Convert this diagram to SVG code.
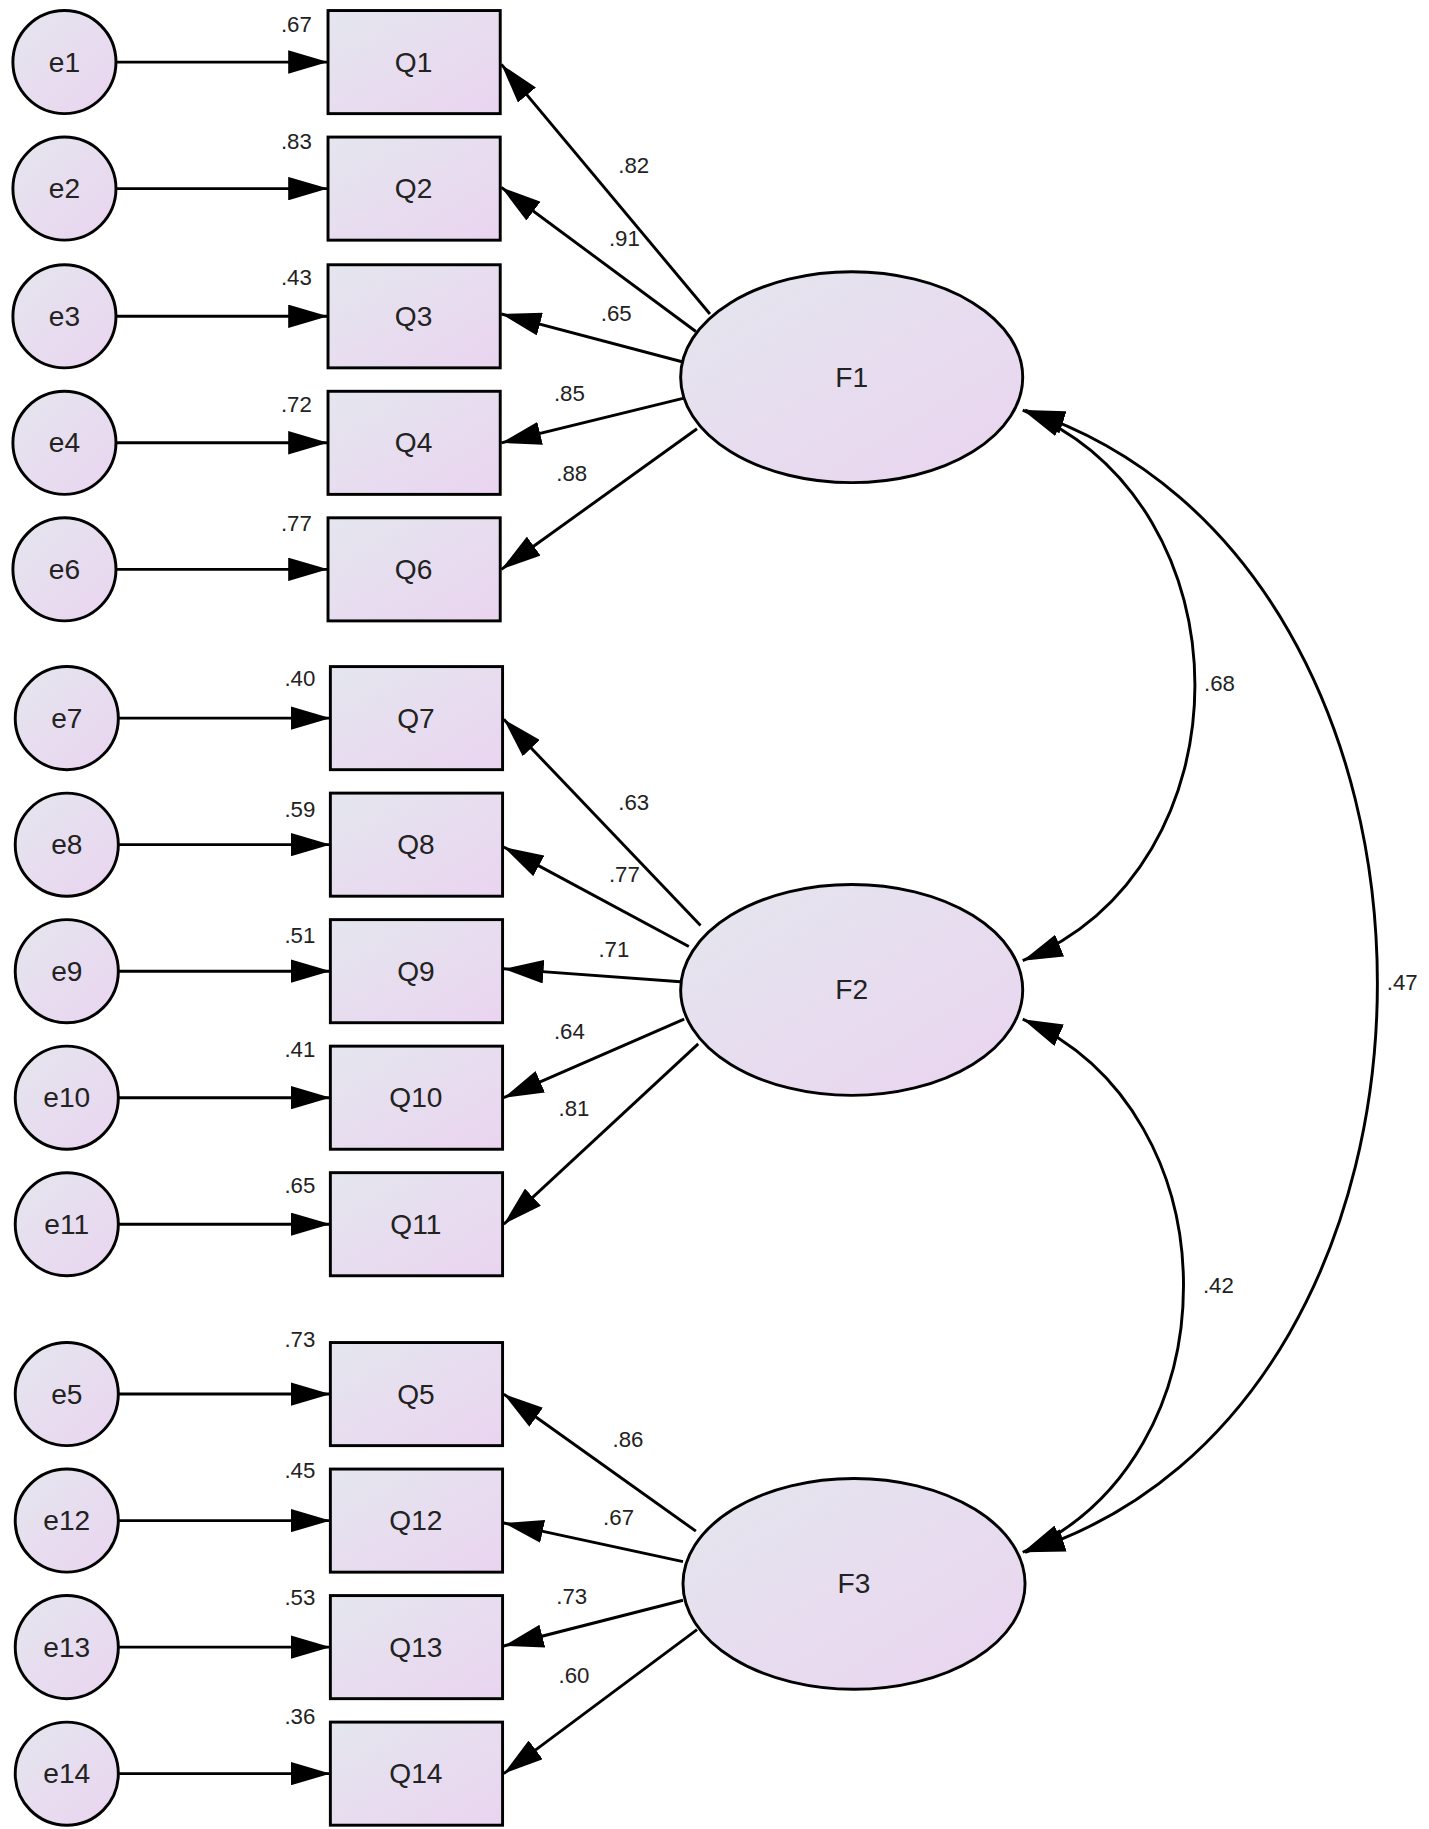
<svg xmlns="http://www.w3.org/2000/svg" width="1429" height="1829" viewBox="0 0 1429 1829">
<defs>
<linearGradient id="g" x1="0" y1="0" x2="1" y2="1"><stop offset="0" stop-color="#e4e6ee"/><stop offset="1" stop-color="#ead4f0"/></linearGradient>
<marker id="a" viewBox="0 0 34 20" refX="34" refY="10" markerWidth="34" markerHeight="20" markerUnits="userSpaceOnUse" orient="auto-start-reverse"><path d="M0,0L34,10L0,20z" fill="#000"/></marker>
<style>
.n{fill:url(#g);stroke:#000;stroke-width:2.5}
.t{font-family:"Liberation Sans",Arial,sans-serif;font-size:24px;fill:#222;text-anchor:middle;dominant-baseline:central}
.s{font-family:"Liberation Sans",Arial,sans-serif;font-size:19px;fill:#222;text-anchor:middle}
.c line,.c path{stroke:#000;stroke-width:2.5;fill:none;marker-end:url(#a)}
.c path{marker-start:url(#a)}
</style>
</defs>
<rect width="1429" height="1829" fill="#fff"/>
<g transform="scale(1.1715)">
<g class="c" id="connectors">
<line x1="99" y1="53" x2="280" y2="53"/><line x1="99" y1="161" x2="280" y2="161"/><line x1="99" y1="270" x2="280" y2="270"/><line x1="99" y1="378" x2="280" y2="378"/><line x1="99" y1="486" x2="280" y2="486"/>
<line x1="101" y1="613" x2="282" y2="613"/><line x1="101" y1="721" x2="282" y2="721"/><line x1="101" y1="829" x2="282" y2="829"/><line x1="101" y1="937" x2="282" y2="937"/><line x1="101" y1="1045" x2="282" y2="1045"/>
<line x1="101" y1="1190" x2="282" y2="1190"/><line x1="101" y1="1298" x2="282" y2="1298"/><line x1="101" y1="1406" x2="282" y2="1406"/><line x1="101" y1="1514" x2="282" y2="1514"/>
<line x1="606" y1="268" x2="428" y2="55"/><line x1="594" y1="283" x2="428" y2="160"/><line x1="583" y1="309" x2="428" y2="268"/><line x1="583" y1="340" x2="428" y2="378"/><line x1="595" y1="366" x2="428" y2="486"/>
<line x1="598" y1="790" x2="430" y2="614"/><line x1="588" y1="808" x2="430" y2="723"/><line x1="581" y1="838" x2="430" y2="827"/><line x1="584" y1="870" x2="430" y2="937"/><line x1="596" y1="891" x2="430" y2="1045"/>
<line x1="594" y1="1307" x2="430" y2="1190"/><line x1="583" y1="1333" x2="430" y2="1300"/><line x1="583" y1="1366" x2="430" y2="1405"/><line x1="595" y1="1391" x2="430" y2="1514"/>
<path d="M873,350 C1069,430 1069,740 873,820"/>
<path d="M873,870 C1056,950 1056,1245 873,1325"/>
<path d="M875,350 C1276,480 1276,1200 875,1325"/>
</g>
<g id="labels">
<text class="s" x="253" y="27">.67</text><text class="s" x="253" y="127">.83</text><text class="s" x="253" y="243">.43</text><text class="s" x="253" y="352">.72</text><text class="s" x="253" y="453">.77</text>
<text class="s" x="256" y="586">.40</text><text class="s" x="256" y="697">.59</text><text class="s" x="256" y="805">.51</text><text class="s" x="256" y="902">.41</text><text class="s" x="256" y="1018">.65</text>
<text class="s" x="256" y="1150">.73</text><text class="s" x="256" y="1262">.45</text><text class="s" x="256" y="1370">.53</text><text class="s" x="256" y="1472">.36</text>
<text class="s" x="541" y="148">.82</text><text class="s" x="533" y="210">.91</text><text class="s" x="526" y="274">.65</text><text class="s" x="486" y="342">.85</text><text class="s" x="488" y="411">.88</text>
<text class="s" x="541" y="691">.63</text><text class="s" x="533" y="753">.77</text><text class="s" x="524" y="817">.71</text><text class="s" x="486" y="887">.64</text><text class="s" x="490" y="953">.81</text>
<text class="s" x="536" y="1235">.86</text><text class="s" x="528" y="1302">.67</text><text class="s" x="488" y="1369">.73</text><text class="s" x="490" y="1437">.60</text>
<text class="s" x="1041" y="590">.68</text><text class="s" x="1040" y="1104">.42</text><text class="s" x="1197" y="845">.47</text>
</g>
<g id="e1"><circle class="n" cx="55" cy="53" r="44"/><text class="t" x="55" y="53">e1</text></g>
<g id="e2"><circle class="n" cx="55" cy="161" r="44"/><text class="t" x="55" y="161">e2</text></g>
<g id="e3"><circle class="n" cx="55" cy="270" r="44"/><text class="t" x="55" y="270">e3</text></g>
<g id="e4"><circle class="n" cx="55" cy="378" r="44"/><text class="t" x="55" y="378">e4</text></g>
<g id="e6"><circle class="n" cx="55" cy="486" r="44"/><text class="t" x="55" y="486">e6</text></g>
<g id="e7"><circle class="n" cx="57" cy="613" r="44"/><text class="t" x="57" y="613">e7</text></g>
<g id="e8"><circle class="n" cx="57" cy="721" r="44"/><text class="t" x="57" y="721">e8</text></g>
<g id="e9"><circle class="n" cx="57" cy="829" r="44"/><text class="t" x="57" y="829">e9</text></g>
<g id="e10"><circle class="n" cx="57" cy="937" r="44"/><text class="t" x="57" y="937">e10</text></g>
<g id="e11"><circle class="n" cx="57" cy="1045" r="44"/><text class="t" x="57" y="1045">e11</text></g>
<g id="e5"><circle class="n" cx="57" cy="1190" r="44"/><text class="t" x="57" y="1190">e5</text></g>
<g id="e12"><circle class="n" cx="57" cy="1298" r="44"/><text class="t" x="57" y="1298">e12</text></g>
<g id="e13"><circle class="n" cx="57" cy="1406" r="44"/><text class="t" x="57" y="1406">e13</text></g>
<g id="e14"><circle class="n" cx="57" cy="1514" r="44"/><text class="t" x="57" y="1514">e14</text></g>
<g id="Q1"><rect class="n" x="280" y="9" width="147" height="88"/><text class="t" x="353" y="53">Q1</text></g>
<g id="Q2"><rect class="n" x="280" y="117" width="147" height="88"/><text class="t" x="353" y="161">Q2</text></g>
<g id="Q3"><rect class="n" x="280" y="226" width="147" height="88"/><text class="t" x="353" y="270">Q3</text></g>
<g id="Q4"><rect class="n" x="280" y="334" width="147" height="88"/><text class="t" x="353" y="378">Q4</text></g>
<g id="Q6"><rect class="n" x="280" y="442" width="147" height="88"/><text class="t" x="353" y="486">Q6</text></g>
<g id="Q7"><rect class="n" x="282" y="569" width="147" height="88"/><text class="t" x="355" y="613">Q7</text></g>
<g id="Q8"><rect class="n" x="282" y="677" width="147" height="88"/><text class="t" x="355" y="721">Q8</text></g>
<g id="Q9"><rect class="n" x="282" y="785" width="147" height="88"/><text class="t" x="355" y="829">Q9</text></g>
<g id="Q10"><rect class="n" x="282" y="893" width="147" height="88"/><text class="t" x="355" y="937">Q10</text></g>
<g id="Q11"><rect class="n" x="282" y="1001" width="147" height="88"/><text class="t" x="355" y="1045">Q11</text></g>
<g id="Q5"><rect class="n" x="282" y="1146" width="147" height="88"/><text class="t" x="355" y="1190">Q5</text></g>
<g id="Q12"><rect class="n" x="282" y="1254" width="147" height="88"/><text class="t" x="355" y="1298">Q12</text></g>
<g id="Q13"><rect class="n" x="282" y="1362" width="147" height="88"/><text class="t" x="355" y="1406">Q13</text></g>
<g id="Q14"><rect class="n" x="282" y="1470" width="147" height="88"/><text class="t" x="355" y="1514">Q14</text></g>
<g id="F1"><ellipse class="n" cx="727" cy="322" rx="146" ry="90"/><text class="t" x="727" y="322">F1</text></g>
<g id="F2"><ellipse class="n" cx="727" cy="845" rx="146" ry="90"/><text class="t" x="727" y="845">F2</text></g>
<g id="F3"><ellipse class="n" cx="729" cy="1352" rx="146" ry="90"/><text class="t" x="729" y="1352">F3</text></g>
</g>
</svg>
